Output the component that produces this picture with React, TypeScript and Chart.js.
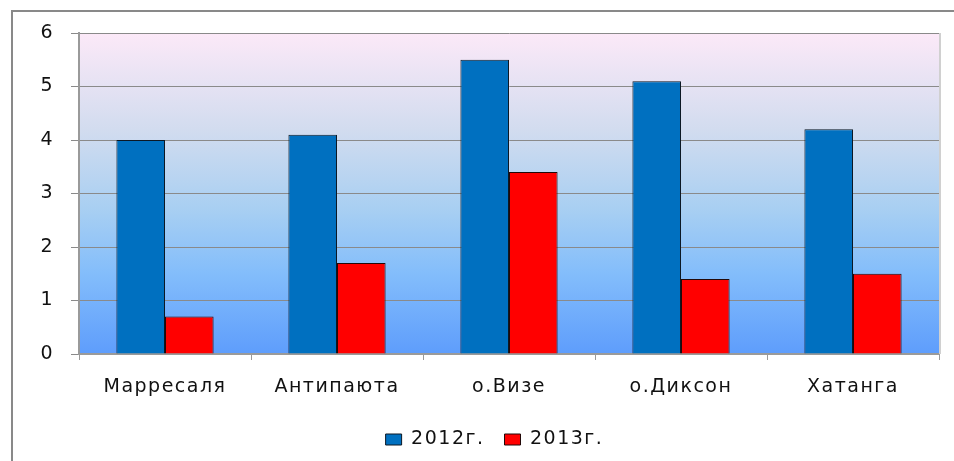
import React, { useEffect, useRef } from "react";
import { Chart, registerables } from "chart.js";

Chart.register(...registerables);

const categories = ["Марресаля", "Антипаюта", "о.Визе", "о.Диксон", "Хатанга"];
const series2012 = [4.0, 4.1, 5.5, 5.1, 4.2];
const series2013 = [0.7, 1.7, 3.4, 1.4, 1.5];
const seriesNames = ["2012г.", "2013г."];
const yTicks = [0, 1, 2, 3, 4, 5, 6];

const FONT = "'DejaVu Sans', sans-serif";
const LETTER = "1.5px";
const FSIZE = 19;
const LEGEND_SHIFT = 25;

const decorPlugin = {
  id: "decor",
  beforeUpdate(chart: any) {
    (chart.ctx as any).letterSpacing = LETTER;
  },
  afterLayout(chart: any) {
    const lg = chart.legend;
    if (lg) {
      lg.left += LEGEND_SHIFT;
      lg.right += LEGEND_SHIFT;
    }
  },
  beforeDraw(chart: any) {
    const { ctx, chartArea } = chart;
    (ctx as any).letterSpacing = LETTER;
    ctx.save();
    ctx.fillStyle = "#ffffff";
    ctx.fillRect(0, 0, chart.width, chart.height);
    const { left, top, right, bottom } = chartArea;
    const g = ctx.createLinearGradient(0, top, 0, bottom);
    g.addColorStop(0, "#fce9f8");
    g.addColorStop(0.3, "#d2dcef");
    g.addColorStop(0.55, "#a8cff2");
    g.addColorStop(0.75, "#83bdfb");
    g.addColorStop(1, "#5e9dfc");
    ctx.fillStyle = g;
    ctx.fillRect(left, top, right - left, bottom - top);
    ctx.restore();
  },
  afterDraw(chart: any) {
    const { ctx, chartArea } = chart;
    ctx.save();
    ctx.strokeStyle = "#d0d0d0";
    ctx.lineWidth = 2;
    ctx.beginPath();
    ctx.moveTo(chartArea.right + 1, chartArea.top);
    ctx.lineTo(chartArea.right + 1, chartArea.bottom);
    ctx.stroke();
    ctx.strokeStyle = "#898989";
    ctx.lineWidth = 2;
    ctx.strokeRect(12, 11, 2000, 2000);
    ctx.restore();
  },
};

export default function App() {
  const ref = useRef<HTMLCanvasElement>(null);
  useEffect(() => {
    if (!ref.current) return;
    const chart = new Chart(ref.current, {
      type: "bar",
      data: {
        labels: categories,
        datasets: [
          {
            label: seriesNames[0],
            data: series2012,
            backgroundColor: "#0070c0",
            borderColor: "#0c1824",
            borderWidth: 1,
            categoryPercentage: 0.565,
            barPercentage: 1,
          },
          {
            label: seriesNames[1],
            data: series2013,
            backgroundColor: "#ff0000",
            borderColor: "#220808",
            borderWidth: 1,
            categoryPercentage: 0.565,
            barPercentage: 1,
          },
        ],
      },
      options: {
        animation: false,
        responsive: false,
        maintainAspectRatio: false,
        layout: { padding: { left: 0, right: 15, top: 33, bottom: 2 } },
        plugins: {
          tooltip: { enabled: false },
          legend: {
            position: "bottom",
            labels: {
              boxWidth: 16,
              boxHeight: 11,
              padding: 20,
              color: "#111111",
              font: { family: FONT, size: FSIZE },
            },
          },
        },
        scales: {
          x: {
            offset: true,
            grid: {
              offset: true,
              drawOnChartArea: false,
              drawTicks: true,
              tickLength: 6,
              color: "#9a9a9a",
            },
            border: { display: true, color: "#9a9a9a", width: 2 },
            ticks: {
              color: "#111111",
              font: { family: FONT, size: FSIZE },
              padding: 16,
              maxRotation: 0,
            },
            afterFit(scale: any) {
              scale.height = 56;
            },
          },
          y: {
            min: 0,
            max: 6,
            afterBuildTicks(scale: any) {
              scale.ticks = yTicks.map((v) => ({ value: v }));
            },
            grid: {
              color: "#8a8a8a",
              lineWidth: 1,
              tickLength: 8,
              drawTicks: true,
            },
            border: { display: true, color: "#9a9a9a", width: 2 },
            ticks: {
              color: "#111111",
              font: { family: FONT, size: FSIZE },
              padding: 17,
            },
            afterFit(scale: any) {
              scale.width = 79;
            },
          },
        },
      },
      plugins: [decorPlugin],
    });
    return () => chart.destroy();
  }, []);
  return (
    <div style={{ position: "fixed", left: 0, top: 0, width: 954, height: 461, overflow: "hidden", background: "#fff" }}>
      <canvas ref={ref} width={954} height={461} style={{ width: 954, height: 461, display: "block" }} />
    </div>
  );
}
